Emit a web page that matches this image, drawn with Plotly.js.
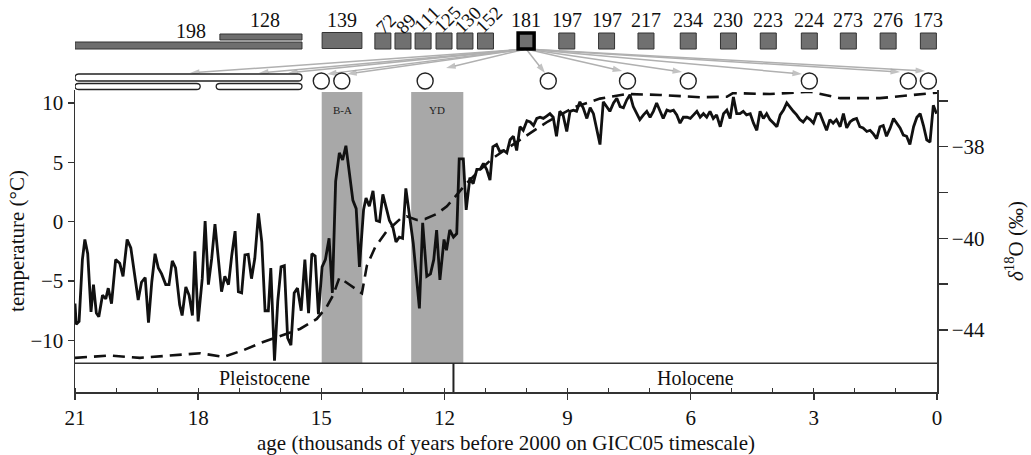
<!DOCTYPE html>
<html><head><meta charset="utf-8">
<script src="https://cdn.plot.ly/plotly-3.0.1.min.js"></script>
<style>html,body{margin:0;padding:0;background:#fff;}</style>
</head><body><div id="chart" style="width:1031px;height:455px;"></div>
<script>
// ---------- DATA ----------
// temperature record (age in kyr BP, °C)
const tempAge = [21.00,20.97,20.90,20.82,20.76,20.69,20.61,20.55,20.48,20.42,20.33,20.25,20.19,20.11,20.01,19.91,19.83,19.73,19.64,19.56,19.46,19.38,19.29,19.21,19.13,19.05,18.97,18.89,18.79,18.71,18.63,18.55,18.45,18.39,18.30,18.22,18.14,18.08,18.00,17.90,17.83,17.75,17.67,17.59,17.51,17.43,17.35,17.26,17.18,17.10,17.02,16.94,16.86,16.78,16.70,16.62,16.53,16.45,16.37,16.29,16.23,16.14,16.06,15.98,15.90,15.82,15.74,15.66,15.58,
15.49,15.40,15.31,15.23,15.15,15.07,14.98,14.90,14.81,14.73,14.65,14.56,14.48,14.40,14.32,14.23,14.15,14.07,13.97,13.91,13.83,13.74,13.66,13.58,13.50,13.42,13.34,13.26,13.18,13.10,13.02,12.94,12.85,12.76,12.61,12.53,12.43,12.34,12.26,12.19,12.11,12.01,11.95,11.87,11.78,11.70,11.64,11.54,11.47,11.38,11.30,11.21,11.13,11.05,10.97,10.89,10.82,10.73,10.65,10.56,10.48,10.40,10.32,10.24,10.16,10.08,
9.99,9.91,9.83,9.75,9.67,9.59,9.51,9.43,9.35,9.27,9.19,9.11,9.02,8.94,8.86,8.78,8.70,8.62,8.53,8.45,8.37,8.29,8.21,
8.13,8.05,7.97,7.88,7.80,7.72,7.64,7.56,7.48,7.40,7.32,7.24,7.15,7.07,6.99,6.91,6.83,6.75,6.67,6.58,6.50,6.42,6.34,6.26,6.18,6.09,6.01,5.93,5.85,5.77,5.69,5.61,5.53,5.45,5.37,5.28,5.20,5.12,5.04,4.96,4.88,4.80,4.72,4.64,4.55,4.47,4.39,4.31,4.23,4.15,4.07,3.98,3.90,3.82,3.74,3.66,3.58,3.50,3.42,3.34,3.26,3.17,3.09,3.01,2.93,2.85,2.77,2.69,2.61,2.53,2.45,2.36,2.28,2.20,2.12,2.04,1.96,1.88,1.80,1.71,1.63,1.55,1.47,1.39,1.31,1.23,1.14,1.06,0.98,0.90,0.82,0.74,0.66,0.57,0.49,0.41,0.33,0.25,0.17,0.09,0.01];
const tempVal = [-6.9,-8.65,-8.4,-3.2,-1.5,-2.7,-7.6,-5.3,-7.7,-8.0,-6.2,-6.5,-5.6,-6.9,-3.2,-3.5,-4.6,-1.5,-2.2,-4.2,-6.6,-5.1,-4.7,-8.5,-5.1,-2.7,-3.9,-4.4,-5.3,-5.3,-3.3,-3.9,-7.0,-7.9,-5.5,-6.2,-7.9,-2.5,-8.4,-4.8,0.05,-5.3,-3.1,-0.2,-3.1,-5.9,-4.6,-5.3,-2.8,-0.8,-5.9,-6.0,-2.8,-2.75,-4.8,-3.1,0.7,-1.7,-7.5,-7.5,-3.9,-11.7,-6.7,-3.8,-3.7,-9.8,-10.4,-6.0,-5.6,
-7.5,-3.2,-7.7,-2.7,-2.9,-7.8,-3.8,-3.2,-1.4,-6.0,3.4,5.8,5.2,6.4,4.4,1.8,1.1,-3.8,1.0,2.0,1.3,2.6,0.1,0.0,2.3,1.3,0.1,-0.4,-1.7,-1.3,-1.4,2.8,0.7,-1.8,-7.3,-0.1,-4.6,-4.4,-3.2,-0.7,-4.9,-1.5,-2.4,-0.7,-1.3,-1.0,5.3,5.3,1.0,3.7,3.2,4.4,4.4,4.9,4.4,3.5,6.3,6.5,5.9,6.0,5.8,6.9,7.2,6.0,8.0,7.7,
8.5,8.4,8.1,8.7,8.8,8.7,8.9,9.1,8.8,7.2,9.3,9.0,7.6,9.3,9.4,9.3,10.1,9.6,8.7,9.6,9.1,7.9,6.5,
10.1,9.7,9.3,10.0,10.4,9.7,9.6,10.25,10.7,9.7,9.1,8.6,9.0,9.3,8.8,9.3,10.0,9.4,8.7,9.4,9.3,9.4,9.0,8.3,8.8,8.8,8.7,9.0,9.3,8.8,9.1,8.8,9.3,8.7,9.0,8.0,9.1,9.4,8.7,10.5,9.1,9.1,9.3,9.0,9.1,8.3,7.7,9.3,8.7,9.1,8.6,8.3,8.0,9.0,9.4,10.0,9.6,9.3,9.0,8.6,8.4,8.8,8.6,8.3,9.1,9.1,8.4,7.7,8.6,8.3,8.6,8.0,9.1,7.9,8.4,8.6,8.7,8.0,7.9,7.6,7.7,7.4,7.0,8.0,8.1,7.2,7.9,8.7,8.3,7.9,7.3,7.2,6.5,8.0,8.8,9.1,8.1,6.9,6.7,9.8,9.1];

// delta-18O record (age in kyr BP, per mil)
const d18OAge = [21.0,20.15,19.42,18.76,17.95,17.38,16.89,16.49,16.00,15.52,15.11,14.87,14.71,14.56,14.30,14.01,13.89,13.69,13.41,13.08,12.92,12.67,12.47,12.19,11.94,11.70,11.46,11.13,10.82,10.16,9.48,8.82,8.21,7.55,6.75,5.77,5.12,4.97,4.07,3.09,2.36,1.39,0.66,0.10,0.0];
const d18OVal = [-42.61,-42.56,-42.61,-42.56,-42.51,-42.59,-42.44,-42.29,-42.13,-41.98,-41.76,-41.5,-41.24,-40.86,-41.02,-41.2,-40.6,-40.2,-39.85,-39.58,-39.52,-39.6,-39.58,-39.47,-39.3,-39.05,-38.8,-38.5,-38.25,-37.85,-37.45,-37.13,-36.95,-36.85,-36.87,-36.92,-36.91,-36.83,-36.85,-36.80,-36.94,-36.94,-36.87,-36.83,-36.82];

// right-axis ticks (labels as printed in the figure)
const d18OTickVals = [-38,-40,-42];
const d18OTickText = ['−38','−40','−44'];
const d18OMinorVals = [-37,-39,-41];

// climate periods (kyr BP)
const periodNames = ['B-A','YD'];
const periodStart = [14.99, 12.81];
const periodEnd = [14.00, 11.54];

// epochs
const epochNames = ['Pleistocene','Holocene'];
const epochStart = [21.0, 11.78];
const epochEnd = [11.78, 0.0];

// samples shown as filled bars spanning ages
const barLabels = ['198','128'];
const barFrom = [21.0, 17.47];
const barTo = [15.47, 15.47];
// sample shown as wide box
const boxLabel = '139';
const boxFrom = 14.98, boxTo = 14.01;
// samples shown as squares
const sqLabels = ['72','89','111','125','130','152','181','197','197','217','234','230','223','224','273','276','173'];
const sqAges = [13.50,13.01,12.52,12.01,11.50,11.00,10.01,9.02,8.05,7.09,6.06,5.08,4.11,3.11,2.16,1.19,0.21];
const sqRotated = [true,true,true,true,true,true,false,false,false,false,false,false,false,false,false,false,false];
const highlightLabel = '181';
// open (outline) bars and circles on the second row
const openBarFrom = [21.0, 21.0, 17.56];
const openBarTo = [15.47, 17.95, 15.47];
const openBarRow = [0, 1, 1];
const circleAges = [15.0,14.5,12.47,9.47,7.54,6.06,3.11,0.70,0.21];
// arrow targets from highlighted sample
const arrowAges = [18.20,16.52,15.81,14.86,14.37,11.96,9.55,7.67,6.21,3.29,0.90,0.29];
const arrowRowY = [73,73,73,74,74,68,73,71,72,74,72,71];

// ---------- LAYOUT HELPERS ----------
const FONT = 'Liberation Serif, Times New Roman, serif';
const SQ_Y = 41, LABEL_Y = 20, CIRCLE_Y = 81, ARROW_TAIL_Y = 49;
const shapes = [], annotations = [];

periodNames.forEach((n,i)=>{
  shapes.push({type:'rect',xref:'x',yref:'y',x0:periodStart[i],x1:periodEnd[i],y0:-11.93,y1:10.93,
    fillcolor:'#a8a8a8',line:{width:0},layer:'below'});
  annotations.push({x:(periodStart[i]+periodEnd[i])/2,y:9.4,xref:'x',yref:'y',text:n,showarrow:false,
    font:{family:FONT,size:11,color:'#222'}});
});
// epoch box
shapes.push({type:'line',xref:'x',yref:'y',x0:21,x1:0,y0:-11.93,y1:-11.93,line:{color:'#333',width:1.5}});
shapes.push({type:'line',xref:'x',yref:'y',x0:epochEnd[0],x1:epochEnd[0],y0:-11.93,y1:-14.35,line:{color:'#222',width:2}});
epochNames.forEach((n,i)=>{
  annotations.push({x:(epochStart[i]+epochEnd[i])/2,y:-13.15,xref:'x',yref:'y',text:n,showarrow:false,
    font:{family:FONT,size:20,color:'#111'}});
});
// filled bars
const barRowsY = [[42,49],[34,40]];
barLabels.forEach((l,i)=>{
  shapes.push({type:'rect',xref:'x',yref:'y3',x0:barFrom[i],x1:barTo[i],y0:barRowsY[i][0],y1:barRowsY[i][1],
    fillcolor:'#6e6e6e',line:{color:'#333',width:1}});
});
annotations.push({x:18.17,y:31,xref:'x',yref:'y3',text:barLabels[0],showarrow:false,font:{family:FONT,size:20,color:'#111'}});
annotations.push({x:16.37,y:LABEL_Y,xref:'x',yref:'y3',text:barLabels[1],showarrow:false,font:{family:FONT,size:20,color:'#111'}});
// 139 box
shapes.push({type:'rect',xref:'x',yref:'y3',x0:boxFrom,x1:boxTo,y0:32.5,y1:48.5,fillcolor:'#6e6e6e',line:{color:'#333',width:1}});
annotations.push({x:(boxFrom+boxTo)/2,y:LABEL_Y,xref:'x',yref:'y3',text:boxLabel,showarrow:false,font:{family:FONT,size:20,color:'#111'}});
// open rounded bars
const openRows = [[74,81],[83.5,89.5]];
openBarFrom.forEach((f,i)=>{
  const t = openBarTo[i], y0 = openRows[openBarRow[i]][0], y1 = openRows[openBarRow[i]][1], ym=(y0+y1)/2, r=0.09;
  const p = `M ${f-r},${y0} L ${t+r},${y0} Q ${t},${y0} ${t},${ym} Q ${t},${y1} ${t+r},${y1} L ${f-r},${y1} Q ${f},${y1} ${f},${ym} Q ${f},${y0} ${f-r},${y0} Z`;
  shapes.push({type:'path',xref:'x',yref:'y3',path:p,fillcolor:'white',line:{color:'#222',width:1.3}});
});
// square labels
sqLabels.forEach((l,i)=>{
  if(sqRotated[i]){
    annotations.push({x:sqAges[i],y:l.length>2?19:23,xref:'x',yref:'y3',text:l,showarrow:false,textangle:-45,xshift:3,
      font:{family:FONT,size:19,color:'#111'}});
  } else {
    annotations.push({x:sqAges[i],y:LABEL_Y,xref:'x',yref:'y3',text:l,showarrow:false,font:{family:FONT,size:20,color:'#111'}});
  }
});
// arrows from the highlighted sample (line segments with arrow markers at the head)
const hiAge = sqAges[sqLabels.indexOf(highlightLabel)];
const arrX = [], arrY = [], arrSize = [];
arrowAges.forEach((a,i)=>{
  arrX.push(hiAge, a, null); arrY.push(ARROW_TAIL_Y, arrowRowY[i], null); arrSize.push(0, 10, 0);
});

const traces = [
  {x:arrX,y:arrY,type:'scatter',mode:'lines+markers',xaxis:'x',yaxis:'y3',hoverinfo:'skip',connectgaps:false,
    line:{color:'#b0b0b0',width:1.5},
    marker:{symbol:'arrow',angleref:'previous',size:arrSize,color:'#a8a8a8',line:{width:0}}},
  {x:tempAge,y:tempVal,type:'scatter',mode:'lines',line:{color:'#111',width:2.8},xaxis:'x',yaxis:'y',hoverinfo:'skip'},
  {x:d18OAge,y:d18OVal,type:'scatter',mode:'lines',line:{color:'#111',width:2.6,dash:'12px,7px'},xaxis:'x',yaxis:'y2',hoverinfo:'skip'},
  {x:sqAges,y:sqAges.map(()=>SQ_Y),type:'scatter',mode:'markers',xaxis:'x',yaxis:'y3',hoverinfo:'skip',
    marker:{symbol:'square',size:16,color:'#707070',line:{color:sqLabels.map(l=>l===highlightLabel?'#000':'#333'),width:sqLabels.map(l=>l===highlightLabel?3.5:1)}}},
  {x:circleAges,y:circleAges.map(()=>CIRCLE_Y),type:'scatter',mode:'markers',xaxis:'x',yaxis:'y3',hoverinfo:'skip',
    marker:{symbol:'circle',size:16,color:'white',line:{color:'#222',width:1.4}}}
];

const layout = {
  width:1031,height:455,margin:{l:75,r:94,t:0,b:63},
  paper_bgcolor:'white',plot_bgcolor:'white',showlegend:false,
  font:{family:FONT,size:20,color:'#111'},
  xaxis:{range:[21,0],domain:[0,1],anchor:'y',tickmode:'linear',tick0:0,dtick:3,ticks:'outside',ticklen:6,tickwidth:1.5,tickcolor:'#333',
    showline:true,linecolor:'#333',linewidth:1.5,showgrid:false,zeroline:false,
    minor:{dtick:1,tick0:0,ticks:'inside',ticklen:4,tickcolor:'#333',tickwidth:1,showgrid:false},
    tickfont:{family:FONT,size:21,color:'#111'},
    title:{text:'age (thousands of years before 2000 on GICC05 timescale)',font:{family:FONT,size:21,color:'#111'},standoff:6}},
  yaxis:{domain:[0,302/392],range:[-14.347,11.095],anchor:'x',tickmode:'array',tickvals:[-10,-5,0,5,10],ticks:'outside',ticklen:6,tickwidth:1.5,tickcolor:'#333',
    showline:true,linecolor:'#333',linewidth:1.5,showgrid:false,zeroline:false,
    tickfont:{family:FONT,size:21,color:'#111'},
    title:{text:'temperature (°C)',font:{family:FONT,size:21,color:'#111'},standoff:0}},
  yaxis2:{overlaying:'y',side:'right',anchor:'x',range:[-43.356,-36.762],tickmode:'array',
    tickvals:d18OTickVals,ticktext:d18OTickText,ticks:'outside',ticklen:9,tickwidth:1.5,tickcolor:'#333',
    minor:{tickmode:'array',tickvals:d18OMinorVals,ticks:'outside',ticklen:9,tickwidth:1.5,tickcolor:'#333',showgrid:false},
    showline:true,linecolor:'#333',linewidth:1.5,showgrid:false,zeroline:false,
    tickfont:{family:FONT,size:21,color:'#111'},
    title:{text:'<i>δ</i><sup>18</sup>O (‰)',font:{family:FONT,size:21,color:'#111'},standoff:24}},
  yaxis3:{domain:[300/392,1],range:[92,0],anchor:'x',visible:false,showgrid:false,zeroline:false},
  shapes:shapes,annotations:annotations
};
Plotly.newPlot('chart',traces,layout,{staticPlot:true,displayModeBar:false});
</script></body></html>
